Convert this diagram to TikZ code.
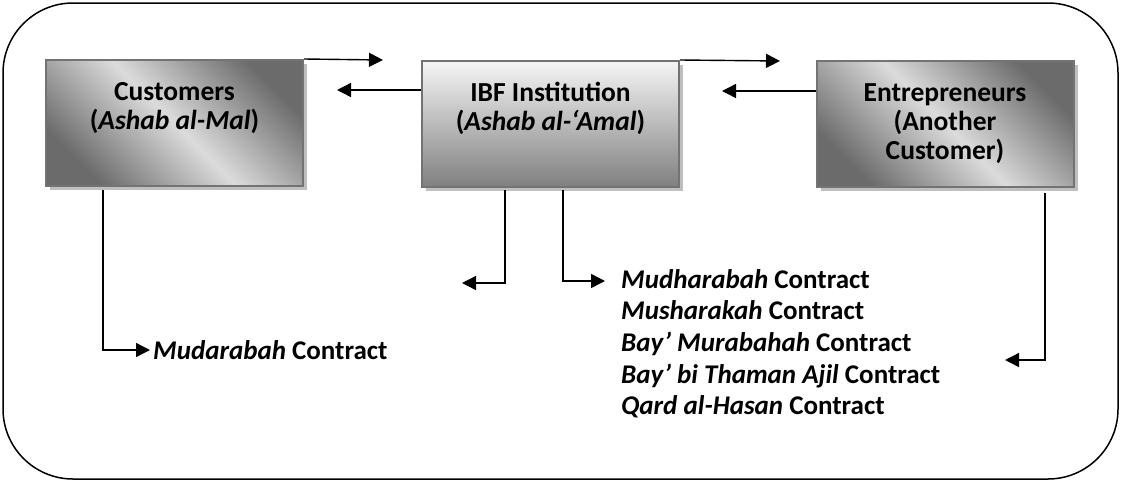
\documentclass[tikz,border=0pt]{standalone}
\usepackage{fontspec}
\setmainfont{Carlito}
\usetikzlibrary{arrows.meta,shadows}
\begin{document}
\begin{tikzpicture}[x=1pt,y=-1pt,
    party/.style={draw=black!55, line width=2pt, minimum width=257pt, minimum height=126pt,
      align=center, font=\bfseries\fontsize{27.5}{29}\selectfont,
      drop shadow={shadow xshift=4pt, shadow yshift=-4pt, fill=black!25, opacity=1}},
    sidebox/.style={party, left color=black!58, right color=black!58, middle color=black!14, shading angle=-45},
    midbox/.style={party, top color=black!4, bottom color=black!50},
    arr/.style={-{Triangle[length=14pt,width=14pt]}, line width=1.4pt},
    contract/.style={font=\bfseries\fontsize{27}{31.7}\selectfont, align=left, inner sep=3pt}]
  \useasboundingbox (0,0) rectangle (1121,482);
  \draw[line width=1.5pt, rounded corners=70pt] (3,3) rectangle (1118,479);
  % the three parties
  \node[sidebox] (cust) at (174.5,123) {Customers\\(\textit{Ashab al-Mal})\\[6pt]\mbox{}};
  \node[midbox] (ibf) at (550.5,124) {IBF Institution\\(\textit{Ashab al-‘Amal})\\[6pt]\mbox{}};
  \node[sidebox] (entr) at (945,124) {Entrepreneurs\\(Another\\Customer)};
  % contracts
  \node[contract, anchor=west] (mud) at (150,350) {\textit{Mudarabah} Contract};
  \node[contract, anchor=north west] (list) at (618,266)
    {\textit{Mudharabah} Contract\\
     \textit{Musharakah} Contract\\
     \textit{Bay’ Murabahah} Contract\\
     \textit{Bay' bi Thaman Ajil} Contract\\
     \textit{Qard al-Hasan} Contract};
  \coordinate (a1) at (383,60);
  \coordinate (a2) at (337,90);
  \coordinate (a3) at (780,61);
  \coordinate (a4) at (722,91);
  \coordinate (a5) at (462,283);
  \coordinate (a6) at (605,281);
  \coordinate (a7) at (1005,360);
  \coordinate (c1) at (103,190);
  \coordinate (i1) at (505,190);
  \coordinate (i2) at (563,190);
  \coordinate (e1) at (1045,193);
  \begin{scope}[arr]
    \draw (cust.north east) -- (a1);
    \draw (ibf.west |- a2) -- (a2);
    \draw (ibf.north east) -- (a3);
    \draw (entr.west |- a4) -- (a4);
    \draw (c1) |- (mud.west);
    \draw (i1) |- (a5);
    \draw (i2) |- (a6);
    \draw (e1) |- (a7);
  \end{scope}
\end{tikzpicture}
\end{document}
